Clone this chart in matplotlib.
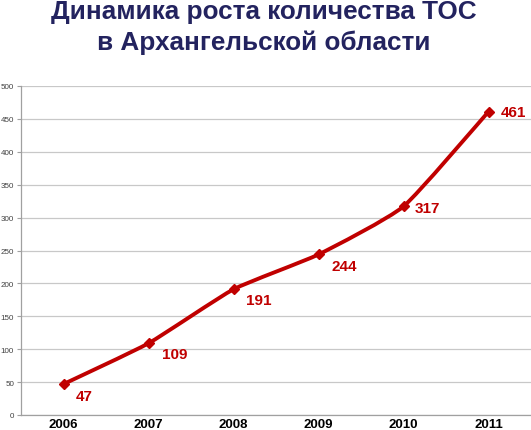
import matplotlib
matplotlib.use("Agg")
import matplotlib.pyplot as plt
from matplotlib.path import Path
from matplotlib.patches import PathPatch
import numpy as np

years = ["2006", "2007", "2008", "2009", "2010", "2011"]
values = [47, 109, 191, 244, 317, 461]
yticks = [0, 50, 100, 150, 200, 250, 300, 350, 400, 450, 500]

title = "Динамика роста количества ТОС\nв Архангельской области"

red = "#C00000"
plt.rcParams['font.family'] = ['Liberation Sans', 'DejaVu Sans']

fig = plt.figure(figsize=(5.31, 4.31), dpi=100)
ax = fig.add_axes([21/531, 1 - 416/431, 1 - 21/531, (416 - 87)/431])

x = np.arange(len(values))
y = np.array(values, dtype=float)

# lightly smoothed line (Catmull-Rom -> cubic Bezier) drawn through the data points
verts = [(x[0], y[0])]
codes = [Path.MOVETO]
t = 1/12
for i in range(len(x) - 1):
    p0 = (x[i-1], y[i-1]) if i > 0 else (x[i], y[i])
    p1 = (x[i], y[i])
    p2 = (x[i+1], y[i+1])
    p3 = (x[i+2], y[i+2]) if i + 2 < len(x) else (x[i+1], y[i+1])
    c1 = (p1[0] + (p2[0] - p0[0]) * t, p1[1] + (p2[1] - p0[1]) * t)
    c2 = (p2[0] - (p3[0] - p1[0]) * t, p2[1] - (p3[1] - p1[1]) * t)
    verts += [c1, c2, p2]
    codes += [Path.CURVE4] * 3
ax.add_patch(PathPatch(Path(verts, codes), facecolor='none', edgecolor=red,
                       lw=2.8, zorder=3, capstyle='round', joinstyle='round'))
ax.plot(x, y, linestyle='none', marker='D', markersize=5.5, color=red, zorder=4)

offsets = [(8.5, -8.5), (10, -7.5), (9, -7.5), (9, -8.5), (8, -1), (9, 0)]
for xi, yi, off in zip(x, y, offsets):
    ax.annotate(str(int(yi)), (xi, yi), xytext=off, textcoords='offset points',
                ha='left', va='center', color=red, fontsize=11, fontweight='bold')

ax.set_xlim(-0.5, len(values) - 0.5)
ax.set_ylim(0, 500)
ax.set_yticks(yticks)
ax.set_yticklabels([str(v) for v in yticks], fontsize=5.8, color='#404040')
ax.set_xticks(x)
ax.set_xticklabels(years, fontsize=9.5, fontweight='bold', color='black')
ax.tick_params(axis='x', length=0, pad=2)
ax.tick_params(axis='y', length=3, width=0.8, color='#A0A0A0', pad=2)
ax.grid(axis='y', color='#C8C8C8', lw=0.9)
ax.set_axisbelow(True)
for s in ['top', 'right']:
    ax.spines[s].set_visible(False)
for s in ['left', 'bottom']:
    ax.spines[s].set_color('#A0A0A0')
    ax.spines[s].set_linewidth(0.9)

fig.text(0.497, 1.0, title, ha='center', va='top', fontsize=18.8,
         fontweight='bold', color='#23235F', linespacing=1.32)

fig.savefig("out.png", dpi=100)
